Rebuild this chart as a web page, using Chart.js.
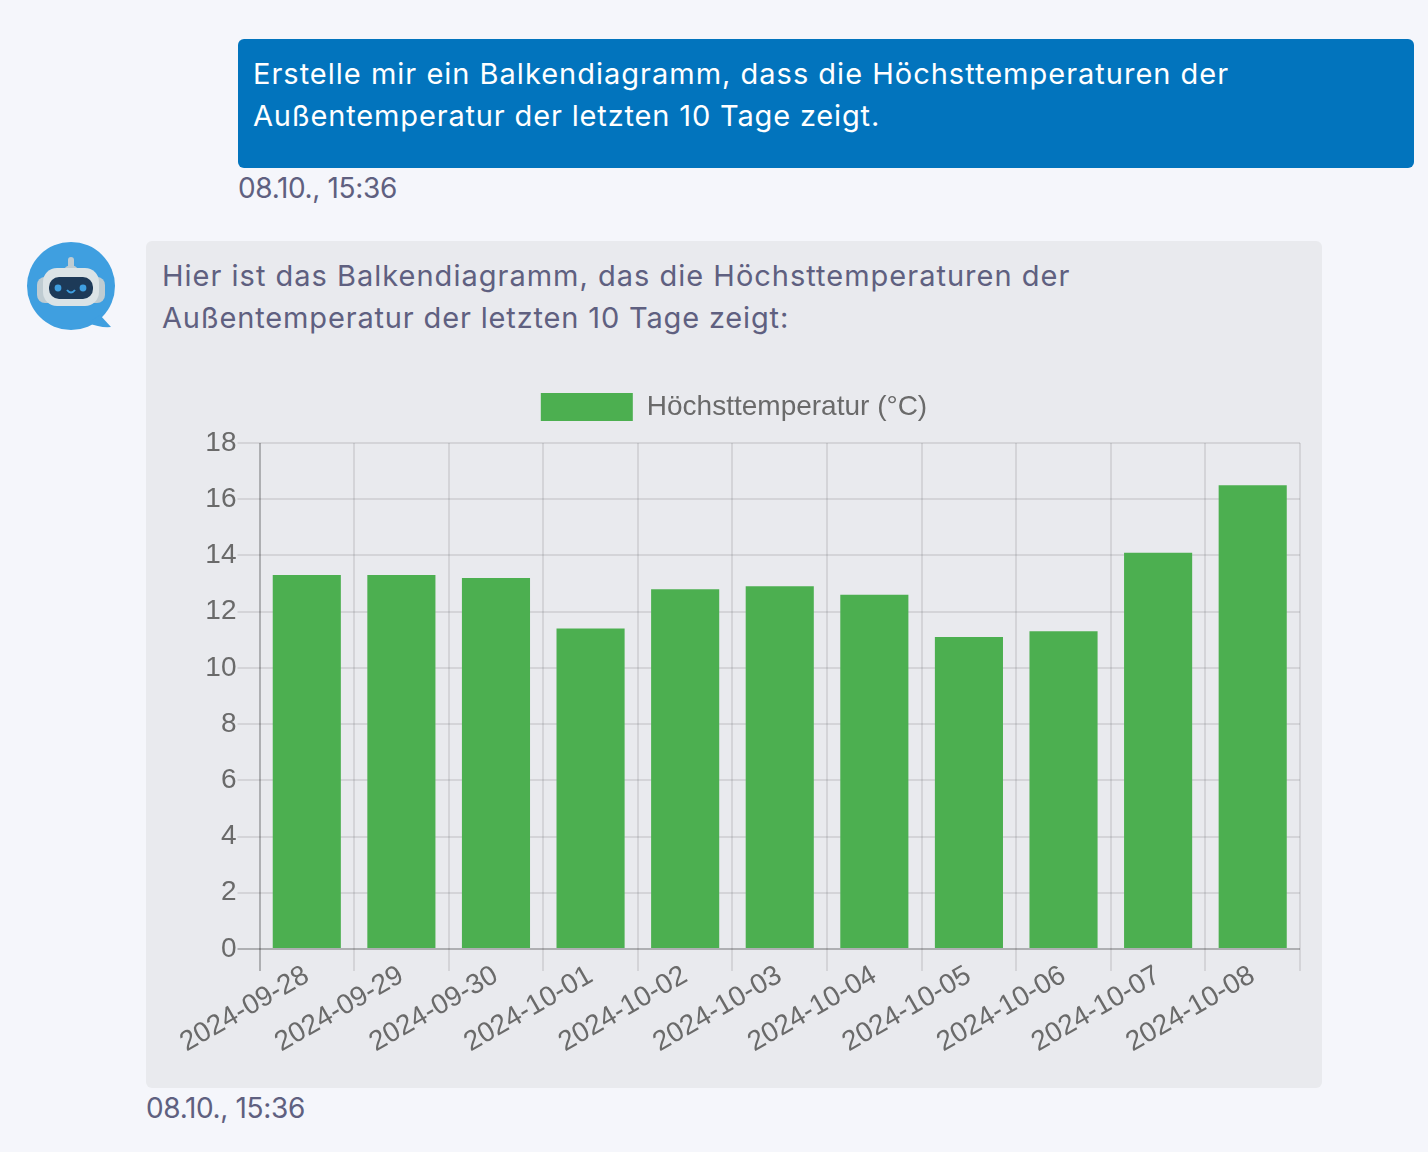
<!DOCTYPE html>
<html lang="de"><head><meta charset="utf-8">
<script src="https://cdn.jsdelivr.net/npm/chart.js@4"></script>
<style>
html,body{margin:0;padding:0;width:1428px;height:1152px;overflow:hidden;background:#f5f6fb;font-family:Inter,"Open Sans",sans-serif}
.abs{position:absolute;white-space:nowrap}
#b1{left:238px;top:39px;width:1176px;height:129px;background:#0274bd;border-radius:6px}
#b2{left:146px;top:241px;width:1176px;height:847px;background:#e9eaee;border-radius:6px}
.t{font-size:29px;line-height:42px;letter-spacing:1px}
.l2{letter-spacing:.84px}
.w{color:#fff}.g{color:#5f6080}
.ts{font-size:28px;line-height:36px;color:#5f6080;letter-spacing:-.35px}
#wrap{left:168px;top:367px;width:1140px;height:689px}
</style></head><body>
<div class="abs" id="b1"></div><div class="abs" id="b2"></div>
<div class="abs t w" style="left:253px;top:53px">Erstelle mir ein Balkendiagramm, dass die Höchsttemperaturen der</div>
<div class="abs t w l2" style="left:253px;top:95px">Außentemperatur der letzten 10 Tage zeigt.</div>
<div class="abs ts" style="left:238px;top:170px">08.10., 15:36</div>
<div class="abs t g" style="left:162px;top:255px">Hier ist das Balkendiagramm, das die Höchsttemperaturen der</div>
<div class="abs t g l2" style="left:162px;top:297px">Außentemperatur der letzten 10 Tage zeigt:</div>
<div class="abs ts" style="left:146px;top:1090px">08.10., 15:36</div>
<svg class="abs" style="left:20px;top:235px" width="100" height="100" viewBox="0 0 100 100">
<circle cx="51" cy="51" r="44" fill="#3f9fe0"/><path d="M80 80 L91 92 Q80 93 68 88Z" fill="#3f9fe0"/>
<rect x="48" y="22" width="6" height="14" rx="3" fill="#bfccd2"/><path d="M42 36 Q51 24 60 36Z" fill="#bfccd2"/>
<rect x="17" y="42" width="68" height="26" rx="8" fill="#bfccd2"/>
<rect x="23" y="33" width="56" height="38" rx="14" fill="#dbe3e6"/>
<rect x="29" y="42" width="44" height="22" rx="10" fill="#1d3a58"/>
<circle cx="38" cy="53" r="3.4" fill="#3f9fe0"/><circle cx="63" cy="53" r="3.4" fill="#3f9fe0"/>
<path d="M47 55 Q51 60 55 55" stroke="#3f9fe0" stroke-width="2" fill="none"/>
</svg>
<div class="abs" id="wrap"><canvas id="c"></canvas></div>
<script>
const categories=["2024-09-28","2024-09-29","2024-09-30","2024-10-01","2024-10-02","2024-10-03","2024-10-04","2024-10-05","2024-10-06","2024-10-07","2024-10-08"];
const maxTemps=[13.3,13.3,13.2,11.4,12.8,12.9,12.6,11.1,11.3,14.1,16.5];
const seriesName="Höchsttemperatur (°C)";
const gridColor="rgba(0,0,0,0.09)";
const zeroColor="rgba(0,0,0,0.25)";
const textColor="#6a6a6a";
const family="'Liberation Sans',Arial,sans-serif";
const legendGap={id:'legendGap',beforeInit(chart){const f=chart.legend.fit;chart.legend.fit=function(){f.call(this);this.height+=12;};}};
new Chart(document.getElementById('c'),{type:'bar',plugins:[legendGap],
data:{labels:categories,datasets:[{label:seriesName,data:maxTemps,backgroundColor:"#4caf50",borderWidth:0}]},
options:{responsive:true,maintainAspectRatio:false,animation:false,devicePixelRatio:1,
layout:{padding:{left:0,right:8,top:0,bottom:0}},
plugins:{tooltip:{enabled:false},legend:{labels:{boxWidth:92,boxHeight:28,padding:26,color:textColor,font:{family,size:28}}}},
scales:{
x:{afterFit(s){s.height=107;},grid:{color:c=>c.index===0?zeroColor:gridColor,lineWidth:2,tickLength:22},border:{display:false},
ticks:{color:textColor,maxRotation:30,minRotation:30,padding:-12,font:{family,size:28}}},
y:{min:0,max:18,afterFit(s){s.width=91.5;},grid:{color:c=>c.tick.value===0?zeroColor:gridColor,lineWidth:2,tickLength:22},border:{display:false},
ticks:{stepSize:2,color:textColor,padding:1,font:{family,size:28}}}
}}});
</script></body></html>
